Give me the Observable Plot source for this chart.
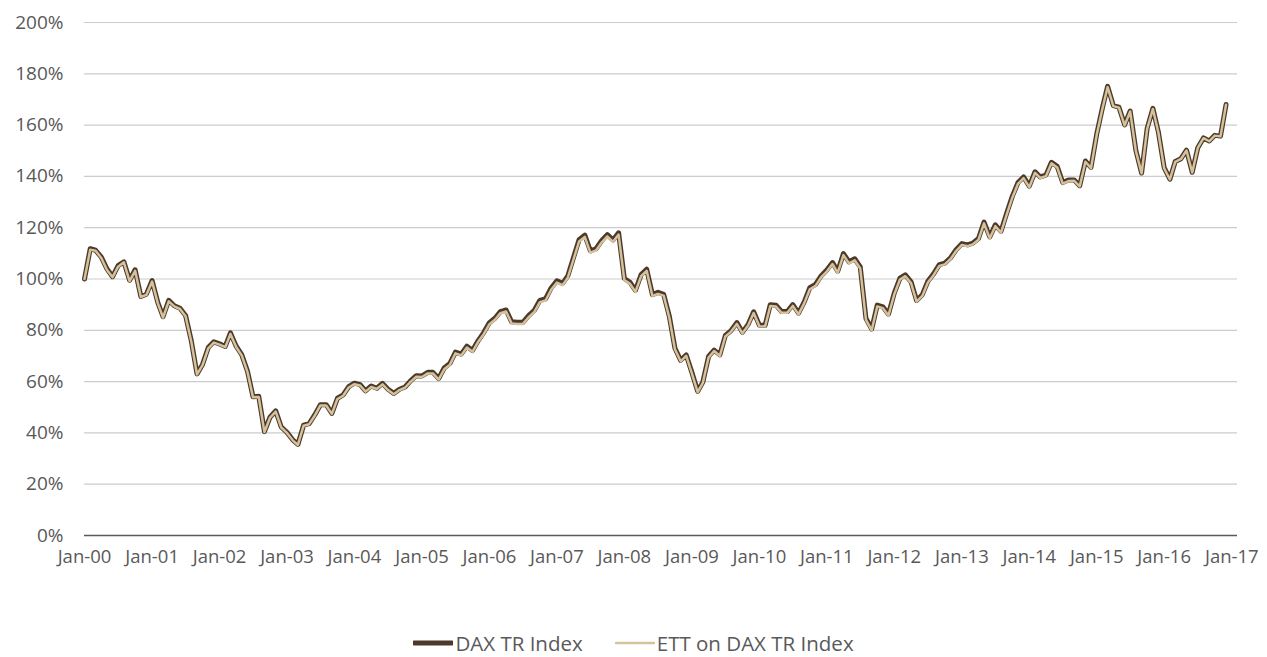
<!DOCTYPE html>
<html>
<head>
<meta charset="utf-8">
<script src="https://cdn.jsdelivr.net/npm/d3@7"></script>
<script src="https://cdn.jsdelivr.net/npm/@observablehq/plot@0.6"></script>
<style>
  html, body { margin: 0; padding: 0; background: #fff; }
  body { position: relative; width: 1267px; height: 657px; overflow: hidden; font-family: "Open Sans", sans-serif; }
  #legend { position: absolute; left: 0; top: 629px; width: 1267px; height: 28px; display: flex; justify-content: center; align-items: center; gap: 32px; color: #595959; font-size: 20.5px; line-height: 28px; }
  .item { display: flex; align-items: center; }
  .item svg { margin-right: 2px; }
</style>
</head>
<body>
<div id="chart"></div>
<div id="legend"></div>
<script>
// Monthly series, Jan-2000 .. Dec-2016, in % of Jan-2000
const startYear = 2000;
const seriesNames = ["DAX TR Index", "ETT on DAX TR Index"];
const dax = [
  100.0, 111.8, 111.2, 108.5, 104.0, 100.9, 105.2, 106.7, 99.5, 103.6, 93.2, 94.1,
  99.4, 90.8, 85.3, 91.7, 89.6, 88.6, 85.8, 75.9, 63.0, 66.7, 73.3, 75.5,
  74.7, 73.7, 79.0, 73.8, 70.5, 64.1, 54.1, 54.3, 40.5, 46.1, 48.6, 42.3,
  40.2, 37.3, 35.5, 43.0, 43.6, 47.1, 51.0, 51.0, 47.6, 53.5, 54.8, 58.0,
  59.4, 58.8, 56.4, 58.3, 57.4, 59.3, 57.0, 55.4, 57.0, 57.9, 60.4, 62.3,
  62.2, 63.6, 63.6, 61.2, 65.3, 67.1, 71.5, 70.7, 73.8, 72.1, 76.0, 79.1,
  83.0, 84.8, 87.3, 87.9, 83.3, 83.1, 83.1, 85.7, 87.8, 91.7, 92.3, 96.5,
  99.3, 98.3, 101.2, 108.4, 115.3, 117.1, 111.0, 111.8, 115.0, 117.3, 115.2, 118.0,
  100.2, 98.7, 95.6, 101.7, 103.8, 93.9, 94.8, 94.0, 85.3, 73.0, 68.3, 70.4,
  63.5, 56.2, 59.8, 69.8, 72.3, 70.4, 78.0, 79.9, 83.0, 79.2, 82.3, 87.2,
  82.0, 81.9, 90.0, 89.8, 87.3, 87.3, 90.0, 86.7, 91.1, 96.6, 97.9, 101.2,
  103.5, 106.4, 103.0, 109.9, 106.7, 107.9, 104.7, 84.6, 80.5, 89.8, 89.1, 86.3,
  94.5, 100.3, 101.6, 98.9, 91.6, 93.9, 99.1, 102.0, 105.6, 106.2, 108.3, 111.4,
  113.8, 113.3, 114.0, 115.8, 122.2, 116.4, 121.1, 118.6, 125.7, 132.2, 137.6, 139.8,
  136.2, 141.8, 139.8, 140.5, 145.5, 143.9, 137.6, 138.6, 138.6, 136.4, 146.0, 143.5,
  156.5, 166.8, 175.1, 167.6, 167.0, 160.1, 165.5, 150.1, 141.3, 158.7, 166.5, 157.2,
  143.4, 138.9, 145.8, 146.9, 150.2, 141.6, 151.2, 155.0, 153.8, 156.0, 155.7, 168.0
];
const ett = [
  100.0, 111.4, 111.0, 108.2, 103.6, 100.7, 104.8, 106.5, 99.2, 103.2, 93.0, 93.8,
  99.0, 90.5, 85.0, 91.3, 89.3, 88.3, 85.5, 75.6, 62.8, 66.4, 73.0, 75.2,
  74.4, 73.4, 78.6, 73.5, 70.2, 63.8, 53.9, 54.0, 40.3, 45.9, 48.3, 42.1,
  40.0, 37.1, 35.3, 42.8, 43.4, 46.8, 50.7, 50.7, 47.4, 53.2, 54.5, 57.7,
  59.0, 58.5, 56.1, 57.9, 57.1, 58.9, 56.7, 55.1, 56.7, 57.6, 60.0, 61.9,
  61.8, 63.2, 63.2, 60.8, 64.8, 66.6, 71.0, 70.2, 73.3, 71.6, 75.5, 78.5,
  82.4, 84.2, 86.7, 87.3, 82.7, 82.5, 82.5, 85.1, 87.2, 91.0, 91.6, 95.8,
  98.6, 97.6, 100.5, 107.7, 114.6, 116.4, 110.3, 111.1, 114.3, 116.6, 114.5, 117.3,
  99.6, 98.1, 95.0, 101.1, 103.2, 93.4, 94.2, 93.5, 84.8, 72.6, 67.9, 70.0,
  63.1, 55.9, 59.5, 69.4, 71.9, 70.0, 77.6, 79.5, 82.5, 78.8, 81.9, 86.7,
  81.6, 81.5, 89.5, 89.3, 86.8, 86.8, 89.5, 86.2, 90.6, 96.0, 97.3, 100.6,
  102.9, 105.8, 102.4, 109.3, 106.1, 107.3, 104.1, 84.1, 80.0, 89.3, 88.6, 85.8,
  94.0, 99.8, 101.1, 98.4, 91.2, 93.4, 98.6, 101.5, 105.1, 105.7, 107.8, 110.9,
  113.3, 112.8, 113.5, 115.3, 121.7, 115.9, 120.6, 118.1, 125.2, 131.7, 137.1, 139.3,
  135.8, 141.4, 139.4, 140.1, 145.1, 143.5, 137.2, 138.2, 138.3, 136.1, 145.7, 143.2,
  156.2, 166.5, 174.8, 167.4, 166.8, 159.9, 165.3, 149.9, 141.2, 158.5, 166.3, 157.0,
  143.2, 138.8, 145.7, 146.8, 150.1, 141.5, 151.1, 154.9, 153.7, 155.9, 155.6, 167.9
];
const yTicks = [0, 20, 40, 60, 80, 100, 120, 140, 160, 180, 200];
const xTickYears = [2000,2001,2002,2003,2004,2005,2006,2007,2008,2009,2010,2011,2012,2013,2014,2015,2016,2017];
const colors = ["#4b3a2b", "#d5c19c"];
const widths = [5, 2.5];

const date = (i) => new Date(Date.UTC(startYear, i, 1));
const rows = dax.map((v, i) => ({date: date(i), dax: v, ett: ett[i]}));
const xTicks = xTickYears.map(y => new Date(Date.UTC(y, 0, 1)));

const chart = Plot.plot({
  width: 1267,
  height: 580,
  marginLeft: 84,
  marginRight: 30,
  marginTop: 22,
  marginBottom: 45,
  style: {fontFamily: "'Open Sans', sans-serif", fontSize: "18px", color: "#595959", background: "#fff", overflow: "visible"},
  x: {type: "utc", domain: [new Date(Date.UTC(2000, 0, 1)), new Date(Date.UTC(2017, 1, 1))]},
  y: {domain: [0, 200]},
  marks: [
    Plot.ruleY(yTicks.filter(d => d > 0), {stroke: "#cccccc", strokeWidth: 1.2}),
    Plot.ruleY([0], {stroke: "#5a5a5a", strokeWidth: 1.6}),
    Plot.axisY({ticks: yTicks, tickSize: 0, tickPadding: 21, tickFormat: d => d + "%", fill: "#595959", fontSize: 19, style: {letterSpacing: "0.8px"}}),
    Plot.axisX({ticks: xTicks, tickSize: 0, tickPadding: 14, tickFormat: d => "Jan-" + String(d.getUTCFullYear() % 100).padStart(2, "0"), fill: "#595959", fontSize: 18.5}),
    Plot.line(rows, {x: "date", y: "dax", stroke: colors[0], strokeWidth: widths[0], strokeLinejoin: "round"}),
    Plot.line(rows, {x: "date", y: "ett", stroke: colors[1], strokeWidth: widths[1], strokeLinejoin: "round"})
  ]
});
document.getElementById("chart").append(chart);

const legend = document.getElementById("legend");
seriesNames.forEach((name, i) => {
  const item = document.createElement("div");
  item.className = "item";
  item.innerHTML = `<svg width="40" height="10"><line x1="1" y1="5" x2="39" y2="5" stroke="${colors[i]}" stroke-width="${widths[i]}" stroke-linecap="round"/></svg><span>${name}</span>`;
  legend.append(item);
});
</script>
</body>
</html>
